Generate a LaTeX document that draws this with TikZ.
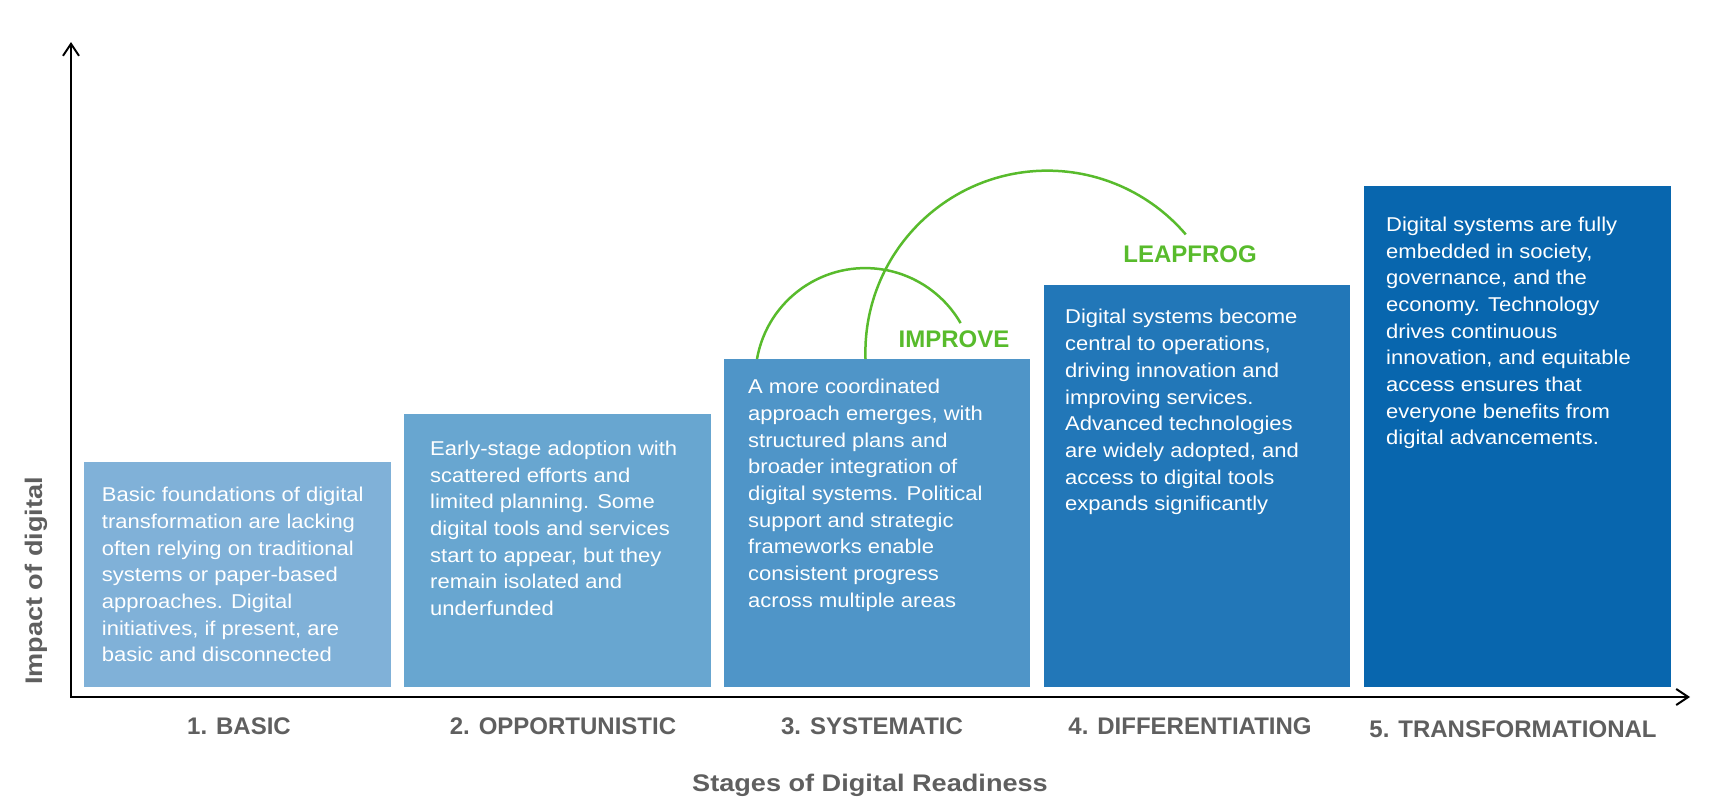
\documentclass[tikz,border=0pt]{standalone}
\usepackage{fontspec}
\setmainfont{Liberation Sans}
\newfontfamily\bodyfont[FakeStretch=1.1]{Liberation Sans}
\newfontfamily\headfont[FakeStretch=1.13]{Liberation Sans}
\usetikzlibrary{positioning,arrows.meta}

\definecolor{basic}{RGB}{128,177,216}
\definecolor{opport}{RGB}{104,166,208}
\definecolor{system}{RGB}{79,149,200}
\definecolor{differ}{RGB}{34,119,184}
\definecolor{transf}{RGB}{8,102,174}
\definecolor{leapgreen}{RGB}{88,187,44}
\definecolor{labelgray}{RGB}{95,95,95}

\begin{document}
\begin{tikzpicture}[x=1pt, y=-1pt,
	box/.style = {fill=#1, inner sep=0, anchor=north west},
	txt/.style = {inner sep=0, anchor=north west, align=left, text=white, font=\bodyfont\fontsize{20}{26.7}\selectfont},
	stage/.style = {anchor=base, text=labelgray, font=\bfseries\fontsize{24}{28}\selectfont},
	axislabel/.style = {text=labelgray, font=\headfont\bfseries\fontsize{24}{28}\selectfont},
	jump/.style = {anchor=base, text=leapgreen, font=\bfseries\fontsize{24}{28}\selectfont},
	arc/.style = {draw=leapgreen, line width=2.5pt}]
	\useasboundingbox (0,0) rectangle (1717,806);

	% axes
	\coordinate (o) at (71,697);
	\coordinate (ytop) at (71,42);
	\coordinate (xend) at (1690,697);
	\draw[line width=2pt, {Straight Barb[length=12pt,width=16pt]}-{Straight Barb[length=12pt,width=16pt]}] (ytop) -- (o) -- (xend);

	% stage boxes
	\node[box=basic, minimum width=307pt, minimum height=225pt] (1) at (84,462) {};
	\node[box=opport, minimum width=307pt, minimum height=273pt] (2) at (404,414) {};
	\node[box=system, minimum width=306pt, minimum height=328pt] (3) at (724,359) {};
	\node[box=differ, minimum width=306pt, minimum height=402pt] (4) at (1044,285) {};
	\node[box=transf, minimum width=307pt, minimum height=501pt] (5) at (1364,186) {};

	\node[txt] (t1) [below right=25pt and 17.7pt of 1.north west] {Basic foundations of digital\\transformation are lacking\\often relying on traditional\\systems or paper-based\\approaches. Digital\\initiatives, if present, are\\basic and disconnected};
	\node[txt] (t2) [below right=26.7pt and 26pt of 2.north west] {Early-stage adoption with\\scattered efforts and\\limited planning. Some\\digital tools and services\\start to appear, but they\\remain isolated and\\underfunded};
	\node[txt] (t3) [below right=20pt and 24pt of 3.north west] {A more coordinated\\approach emerges, with\\structured plans and\\broader integration of\\digital systems. Political\\support and strategic\\frameworks enable\\consistent progress\\across multiple areas};
	\node[txt] (t4) [below right=24.3pt and 21pt of 4.north west] {Digital systems become\\central to operations,\\driving innovation and\\improving services.\\Advanced technologies\\are widely adopted, and\\access to digital tools\\expands significantly};
	\node[txt] (t5) [below right=30.7pt and 22pt of 5.north west] {Digital systems are fully\\embedded in society,\\governance, and the\\economy. Technology\\drives continuous\\innovation, and equitable\\access ensures that\\everyone benefits from\\digital advancements.};

	% stage names
	\node[stage] (s1) at (239,734) {1. BASIC};
	\node[stage] (s2) at (563,734) {2. OPPORTUNISTIC};
	\node[stage] (s3) at (872,734) {3. SYSTEMATIC};
	\node[stage] (s4) at (1190,734) {4. DIFFERENTIATING};
	\node[stage] (s5) at (1513,737) {5. TRANSFORMATIONAL};

	\node[axislabel, anchor=base] (xl) at (870,791) {Stages of Digital Readiness};
	\node[axislabel, rotate=90] (yl) at (36,581) {Impact of digital};

	% jumps
	\coordinate (a1) at (757,359);
	\coordinate (a2) at (865.5,359);
	\draw[arc] (a1) arc[start angle=170, end angle=30, radius=110pt];
	\draw[arc] (a2) arc[start angle=182, end angle=40.5, radius=182pt];
	\node[jump] (imp) at (954,347) {IMPROVE};
	\node[jump] (leap) at (1190,262) {LEAPFROG};
\end{tikzpicture}
\end{document}
